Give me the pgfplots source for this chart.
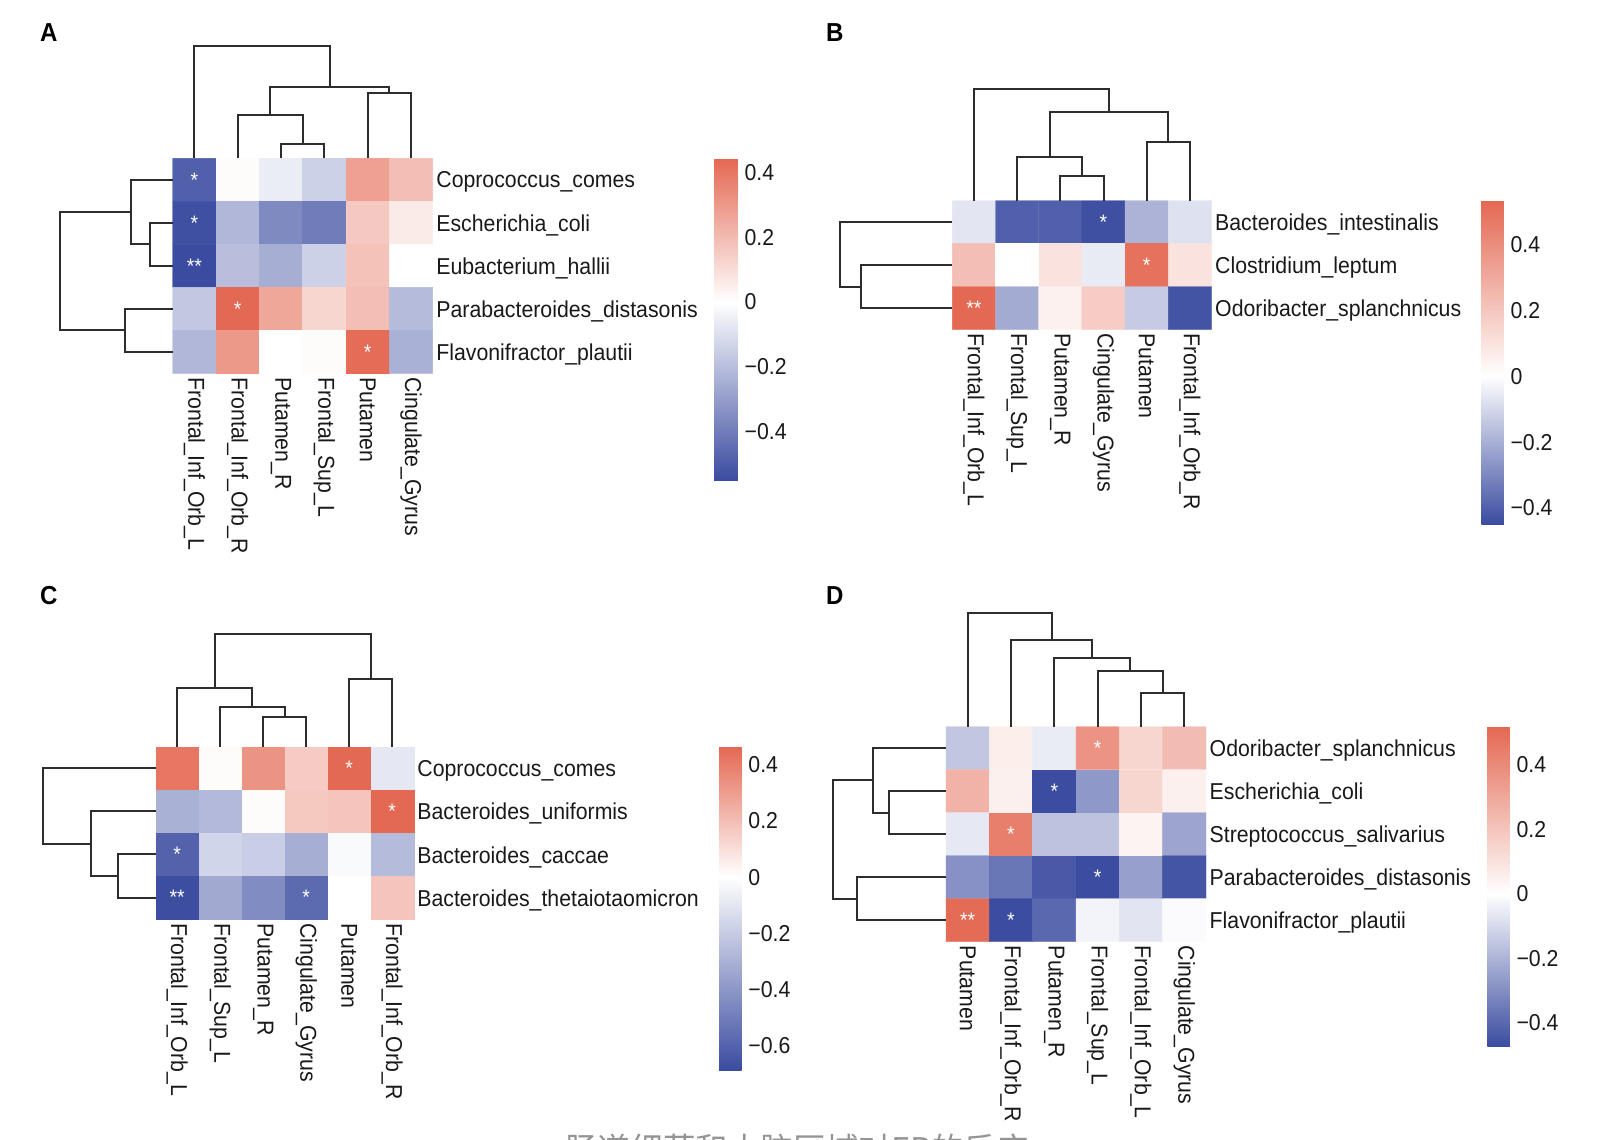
\documentclass[border=0pt]{standalone}
\usepackage{fontspec}
\setmainfont{Liberation Sans}[FakeStretch=0.925]
\newfontfamily\cjk{Noto Sans CJK SC}
\usepackage{pgfplots}
\pgfplotsset{compat=1.18}

\definecolor{dendro}{RGB}{45,45,45}
\definecolor{labtxt}{RGB}{25,25,25}
\newcommand\lab{\fontsize{23}{26}\selectfont}

\pgfplotsset{
  heat/.style={
    scale only axis, enlargelimits=false, clip=false,
    xmin=0, xmax=6, ymin=0, y dir=reverse,
    axis line style={draw=none}, tick style={draw=none}, major tick length=0pt,
    xtick={0.5,1.5,2.5,3.5,4.5,5.5},
    ticklabel style={font=\lab, text=labtxt},
    xticklabel style={rotate=-90, anchor=west, inner xsep=4pt},
    yticklabel pos=right,
    yticklabel style={anchor=west, inner xsep=3.5pt, yshift=-2.5pt},
    colorbar,
    colorbar style={
      at={(parent axis.north east)}, anchor=north west, scale only axis,
      axis line style={draw=none}, tick style={draw=none}, major tick length=0pt,
      yticklabel pos=right,
      yticklabel style={font=\lab, text=labtxt, anchor=west, inner xsep=6.5pt},
    },
  },
  dend/.style={draw=dendro, line width=2pt, mark=none, forget plot},
  stars/.style={only marks, mark=none, point meta=explicit symbolic, forget plot,
    nodes near coords={\pgfplotspointmeta},
    every node near coord/.append style={anchor=center, text=white,
      font=\fontsize{21}{21}\selectfont, inner sep=0pt}},
}

\begin{document}
\begin{tikzpicture}

% ---------------- A ----------------
\begin{axis}[heat,
  at={(172.7pt,-158.3pt)}, anchor=north west,
  width=260pt, height=215pt, ymax=5,
  ytick={0.5,1.5,2.5,3.5,4.5},
  xticklabels={Frontal\_Inf\_Orb\_L,Frontal\_Inf\_Orb\_R,Putamen\_R,Frontal\_Sup\_L,Putamen,Cingulate\_Gyrus},
  yticklabels={Coprococcus\_comes,Escherichia\_coli,Eubacterium\_hallii,Parabacteroides\_distasonis,Flavonifractor\_plautii},
  colormap={cmA}{rgb255(0pt)=(59,76,160) rgb255(550pt)=(255,255,255) rgb255(994pt)=(228,104,82)},
  point meta min=-0.550, point meta max=0.444,
  colorbar/width=23.7pt,
  colorbar style={xshift=273pt, height=321.7pt,
    ytick={-0.4,-0.2,0,0.2,0.4}, yticklabels={−0.4,−0.2,0,0.2,0.4}},
]
\addplot[matrix plot*, mesh/cols=6, point meta=explicit] table[meta=c] {
x y c
0.5 0.5 -0.49
1.5 0.5 0.01
2.5 0.5 -0.055
3.5 0.5 -0.14
4.5 0.5 0.28
5.5 0.5 0.19
0.5 1.5 -0.54
1.5 1.5 -0.22
2.5 1.5 -0.36
3.5 1.5 -0.40
4.5 1.5 0.16
5.5 1.5 0.06
0.5 2.5 -0.55
1.5 2.5 -0.20
2.5 2.5 -0.25
3.5 2.5 -0.14
4.5 2.5 0.18
5.5 2.5 0.00
0.5 3.5 -0.17
1.5 3.5 0.44
2.5 3.5 0.26
3.5 3.5 0.12
4.5 3.5 0.19
5.5 3.5 -0.21
0.5 4.5 -0.22
1.5 4.5 0.30
2.5 4.5 0.00
3.5 4.5 0.01
4.5 4.5 0.43
5.5 4.5 -0.24
};
\addplot[stars] table[meta=s] {
x y s
0.5 0.5 *
0.5 1.5 *
0.5 2.5 **
1.5 3.5 *
4.5 4.5 *
};
\addplot[dend] coordinates {(2.5,0) (2.5,-0.326) (3.5,-0.326) (3.5,0)};
\addplot[dend] coordinates {(1.5,0) (1.5,-1.007) (3.0,-1.007) (3.0,-0.326)};
\addplot[dend] coordinates {(4.5,0) (4.5,-1.526) (5.5,-1.526) (5.5,0)};
\addplot[dend] coordinates {(2.25,-1.007) (2.25,-1.665) (5.0,-1.665) (5.0,-1.526)};
\addplot[dend] coordinates {(0.5,0) (0.5,-2.619) (3.625,-2.619) (3.625,-1.665)};
\addplot[dend] coordinates {(0,1.5) (-0.524,1.5) (-0.524,2.5) (0,2.5)};
\addplot[dend] coordinates {(0,0.5) (-0.962,0.5) (-0.962,2.0) (-0.524,2.0)};
\addplot[dend] coordinates {(0,3.5) (-1.1,3.5) (-1.1,4.5) (0,4.5)};
\addplot[dend] coordinates {(-0.962,1.25) (-2.6,1.25) (-2.6,4.0) (-1.1,4.0)};
\end{axis}

% ---------------- B ----------------
\begin{axis}[heat,
  at={(952.3pt,-200.7pt)}, anchor=north west,
  width=259.2pt, height=128.7pt, ymax=3,
  ytick={0.5,1.5,2.5},
  xticklabels={Frontal\_Inf\_Orb\_L,Frontal\_Sup\_L,Putamen\_R,Cingulate\_Gyrus,Putamen,Frontal\_Inf\_Orb\_R},
  yticklabels={Bacteroides\_intestinalis,Clostridium\_leptum,Odoribacter\_splanchnicus},
  colormap={cmB}{rgb255(0pt)=(59,76,160) rgb255(449pt)=(255,255,255) rgb255(983pt)=(228,104,82)},
  point meta min=-0.449, point meta max=0.534,
  colorbar/width=22.5pt,
  colorbar style={xshift=261.3pt, height=323.3pt,
    ytick={-0.4,-0.2,0,0.2,0.4}, yticklabels={−0.4,−0.2,0,0.2,0.4}},
]
\addplot[matrix plot*, mesh/cols=6, point meta=explicit] table[meta=c] {
x y c
0.5 0.5 -0.063
1.5 0.5 -0.40
2.5 0.5 -0.40
3.5 0.5 -0.44
4.5 0.5 -0.19
5.5 0.5 -0.075
0.5 1.5 0.23
1.5 1.5 0.00
2.5 1.5 0.10
3.5 1.5 -0.05
4.5 1.5 0.50
5.5 1.5 0.10
0.5 2.5 0.53
1.5 2.5 -0.21
2.5 2.5 0.05
3.5 2.5 0.18
4.5 2.5 -0.13
5.5 2.5 -0.43
};
\addplot[stars] table[meta=s] {
x y s
3.5 0.5 *
4.5 1.5 *
0.5 2.5 **
};
\addplot[dend] coordinates {(2.5,0) (2.5,-0.583) (3.5,-0.583) (3.5,0)};
\addplot[dend] coordinates {(1.5,0) (1.5,-1.026) (3.0,-1.026) (3.0,-0.583)};
\addplot[dend] coordinates {(4.5,0) (4.5,-1.375) (5.5,-1.375) (5.5,0)};
\addplot[dend] coordinates {(2.25,-1.026) (2.25,-2.061) (5.0,-2.061) (5.0,-1.375)};
\addplot[dend] coordinates {(0.5,0) (0.5,-2.604) (3.625,-2.604) (3.625,-2.061)};
\addplot[dend] coordinates {(0,1.5) (-2.113,1.5) (-2.113,2.5) (0,2.5)};
\addplot[dend] coordinates {(0,0.5) (-2.604,0.5) (-2.604,2.0) (-2.113,2.0)};
\end{axis}

% ---------------- C ----------------
\begin{axis}[heat,
  at={(155.7pt,-746.7pt)}, anchor=north west,
  width=258pt, height=172.4pt, ymax=4,
  ytick={0.5,1.5,2.5,3.5},
  xticklabels={Frontal\_Inf\_Orb\_L,Frontal\_Sup\_L,Putamen\_R,Cingulate\_Gyrus,Putamen,Frontal\_Inf\_Orb\_R},
  yticklabels={Coprococcus\_comes,Bacteroides\_uniformis,Bacteroides\_caccae,Bacteroides\_thetaiotaomicron},
  colormap={cmC}{rgb255(0pt)=(59,76,160) rgb255(686pt)=(255,255,255) rgb255(1150pt)=(228,104,82)},
  point meta min=-0.686, point meta max=0.464,
  colorbar/width=22.6pt,
  colorbar style={xshift=296.9pt, height=323.3pt,
    ytick={-0.6,-0.4,-0.2,0,0.2,0.4}, yticklabels={−0.6,−0.4,−0.2,0,0.2,0.4}},
]
\addplot[matrix plot*, mesh/cols=6, point meta=explicit] table[meta=c] {
x y c
0.5 0.5 0.42
1.5 0.5 0.01
2.5 0.5 0.33
3.5 0.5 0.16
4.5 0.5 0.46
5.5 0.5 -0.09
0.5 1.5 -0.30
1.5 1.5 -0.27
2.5 1.5 0.01
3.5 1.5 0.17
4.5 1.5 0.18
5.5 1.5 0.46
0.5 2.5 -0.60
1.5 2.5 -0.16
2.5 2.5 -0.19
3.5 2.5 -0.31
4.5 2.5 -0.02
5.5 2.5 -0.26
0.5 3.5 -0.68
1.5 3.5 -0.33
2.5 3.5 -0.44
3.5 3.5 -0.57
4.5 3.5 0.00
5.5 3.5 0.18
};
\addplot[stars] table[meta=s] {
x y s
4.5 0.5 *
5.5 1.5 *
0.5 2.5 *
0.5 3.5 **
3.5 3.5 *
};
\addplot[dend] coordinates {(2.5,0) (2.5,-0.696) (3.5,-0.696) (3.5,0)};
\addplot[dend] coordinates {(1.5,0) (1.5,-0.928) (3.0,-0.928) (3.0,-0.696)};
\addplot[dend] coordinates {(0.5,0) (0.5,-1.369) (2.25,-1.369) (2.25,-0.928)};
\addplot[dend] coordinates {(4.5,0) (4.5,-1.571) (5.5,-1.571) (5.5,0)};
\addplot[dend] coordinates {(1.375,-1.369) (1.375,-2.608) (5.0,-2.608) (5.0,-1.571)};
\addplot[dend] coordinates {(0,2.5) (-0.884,2.5) (-0.884,3.5) (0,3.5)};
\addplot[dend] coordinates {(0,1.5) (-1.512,1.5) (-1.512,3.0) (-0.884,3.0)};
\addplot[dend] coordinates {(0,0.5) (-2.628,0.5) (-2.628,2.25) (-1.512,2.25)};
\end{axis}

% ---------------- D ----------------
\begin{axis}[heat,
  at={(946pt,-726.7pt)}, anchor=north west,
  width=260pt, height=215pt, ymax=5,
  ytick={0.5,1.5,2.5,3.5,4.5},
  xticklabels={Putamen,Frontal\_Inf\_Orb\_R,Putamen\_R,Frontal\_Sup\_L,Frontal\_Inf\_Orb\_L,Cingulate\_Gyrus},
  yticklabels={Odoribacter\_splanchnicus,Escherichia\_coli,Streptococcus\_salivarius,Parabacteroides\_distasonis,Flavonifractor\_plautii},
  colormap={cmD}{rgb255(0pt)=(59,76,160) rgb255(473pt)=(255,255,255) rgb255(992pt)=(228,104,82)},
  point meta min=-0.473, point meta max=0.519,
  colorbar/width=22.5pt,
  colorbar style={xshift=272.8pt, height=319.8pt,
    ytick={-0.4,-0.2,0,0.2,0.4}, yticklabels={−0.4,−0.2,0,0.2,0.4}},
]
\addplot[matrix plot*, mesh/cols=6, point meta=explicit] table[meta=c] {
x y c
0.5 0.5 -0.15
1.5 0.5 0.06
2.5 0.5 -0.05
3.5 0.5 0.37
4.5 0.5 0.14
5.5 0.5 0.23
0.5 1.5 0.26
1.5 1.5 0.05
2.5 1.5 -0.47
3.5 1.5 -0.27
4.5 1.5 0.14
5.5 1.5 0.05
0.5 2.5 -0.06
1.5 2.5 0.44
2.5 2.5 -0.16
3.5 2.5 -0.16
4.5 2.5 0.04
5.5 2.5 -0.24
0.5 3.5 -0.29
1.5 3.5 -0.36
2.5 3.5 -0.44
3.5 3.5 -0.47
4.5 3.5 -0.25
5.5 3.5 -0.45
0.5 4.5 0.51
1.5 4.5 -0.47
2.5 4.5 -0.40
3.5 4.5 -0.03
4.5 4.5 -0.07
5.5 4.5 -0.01
};
\addplot[stars] table[meta=s] {
x y s
3.5 0.5 *
2.5 1.5 *
1.5 2.5 *
3.5 3.5 *
0.5 4.5 **
1.5 4.5 *
};
\addplot[dend] coordinates {(4.5,0) (4.5,-0.791) (5.5,-0.791) (5.5,0)};
\addplot[dend] coordinates {(3.5,0) (3.5,-1.295) (5.0,-1.295) (5.0,-0.791)};
\addplot[dend] coordinates {(2.5,0) (2.5,-1.605) (4.25,-1.605) (4.25,-1.295)};
\addplot[dend] coordinates {(1.5,0) (1.5,-2.016) (3.375,-2.016) (3.375,-1.605)};
\addplot[dend] coordinates {(0.5,0) (0.5,-2.637) (2.4375,-2.637) (2.4375,-2.016)};
\addplot[dend] coordinates {(0,1.5) (-1.309,1.5) (-1.309,2.5) (0,2.5)};
\addplot[dend] coordinates {(0,0.5) (-1.692,0.5) (-1.692,2.0) (-1.309,2.0)};
\addplot[dend] coordinates {(0,3.5) (-2.061,3.5) (-2.061,4.5) (0,4.5)};
\addplot[dend] coordinates {(-1.692,1.25) (-2.601,1.25) (-2.601,4.0) (-2.061,4.0)};
\end{axis}

% panel letters
\begin{scope}[every node/.style={anchor=base west, inner sep=0pt, font=\bfseries\fontsize{26}{26}\selectfont}]
\node at (40pt,-42pt) {A};
\node at (826pt,-42pt) {B};
\node at (40pt,-604pt) {C};
\node at (826pt,-604pt) {D};
\end{scope}

% caption, cut by the lower edge
\begin{scope}
\clip (0pt,-1000pt) rectangle (1606pt,-1140pt);
\node[anchor=base west, inner sep=0pt, text=black!42] at (565pt,-1161pt)
  {\cjk\fontsize{32.6}{36}\selectfont 肠道细菌和大脑区域对EP的反应};
\end{scope}

\pgfresetboundingbox
\path[use as bounding box] (0pt,0pt) rectangle (1606pt,-1140pt);
\end{tikzpicture}
\end{document}
